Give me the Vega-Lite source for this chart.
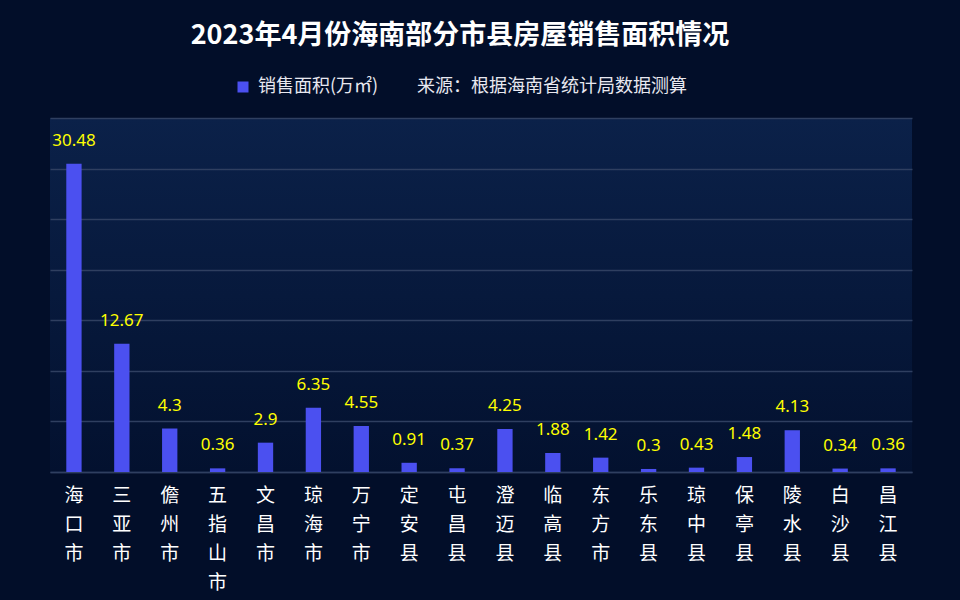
{
  "$schema": "https://vega.github.io/schema/vega-lite/v6.json",
  "width": 862,
  "height": 354,
  "autosize": {"type": "none"},
  "padding": {"left": 50, "top": 118, "right": 48, "bottom": 128},
  "background": "#020e29",
  "title": {
    "text": "2023年4月份海南部分市县房屋销售面积情况",
    "anchor": "middle",
    "dx": -21,
    "offset": 28,
    "fontSize": 27,
    "font": "Noto Sans CJK SC",
    "fontWeight": "bold",
    "color": "#ffffff"
  },
  "data": {
    "values": [
      {"city": "海口市", "area": 30.48},
      {"city": "三亚市", "area": 12.67},
      {"city": "儋州市", "area": 4.3},
      {"city": "五指山市", "area": 0.36},
      {"city": "文昌市", "area": 2.9},
      {"city": "琼海市", "area": 6.35},
      {"city": "万宁市", "area": 4.55},
      {"city": "定安县", "area": 0.91},
      {"city": "屯昌县", "area": 0.37},
      {"city": "澄迈县", "area": 4.25},
      {"city": "临高县", "area": 1.88},
      {"city": "东方市", "area": 1.42},
      {"city": "乐东县", "area": 0.3},
      {"city": "琼中县", "area": 0.43},
      {"city": "保亭县", "area": 1.48},
      {"city": "陵水县", "area": 4.13},
      {"city": "白沙县", "area": 0.34},
      {"city": "昌江县", "area": 0.36}
    ]
  },
  "encoding": {
    "x": {
      "field": "city",
      "type": "nominal",
      "sort": null,
      "scale": {"paddingInner": 0.68, "paddingOuter": 0.34},
      "axis": {
        "title": null,
        "labelAngle": 0,
        "ticks": false,
        "domainColor": "#2f3f60",
        "domainWidth": 1.5,
        "labelColor": "#ffffff",
        "labelFont": "Noto Sans CJK SC",
        "labelFontSize": 19,
        "labelLineHeight": 29,
        "labelBaseline": "top",
        "labelPadding": 14,
        "labelExpr": "split(datum.label, '')"
      }
    },
    "y": {
      "field": "area",
      "type": "quantitative",
      "scale": {"domain": [0, 35], "nice": false},
      "axis": {
        "title": null,
        "labels": false,
        "ticks": false,
        "domain": false,
        "grid": true,
        "gridColor": "#2f3f60",
        "gridWidth": 1.5,
        "values": [0, 5, 10, 15, 20, 25, 30, 35]
      }
    }
  },
  "layer": [
    {
      "mark": {"type": "bar"},
      "encoding": {
        "color": {
          "datum": "销售面积(万㎡)",
          "type": "nominal",
          "scale": {
            "domain": ["销售面积(万㎡)", "来源：根据海南省统计局数据测算"],
            "range": ["#4b50f0", "transparent"]
          },
          "legend": {
            "title": null,
            "orient": "none",
            "direction": "horizontal",
            "legendX": 184,
            "legendY": -40,
            "padding": 0,
            "symbolType": "square",
            "symbolSize": 121,
            "symbolStrokeWidth": 0,
            "labelFont": "Noto Sans CJK SC",
            "labelFontSize": 18,
            "labelColor": "#e8e8f0",
            "labelOffset": 6,
            "columnPadding": 14,
            "labelLimit": 400
          }
        }
      }
    },
    {
      "mark": {
        "type": "text",
        "baseline": "alphabetic",
        "dy": -18,
        "color": "#ffff00",
        "fontSize": 17,
        "font": "Noto Sans"
      },
      "encoding": {
        "text": {"field": "area", "type": "nominal"}
      }
    }
  ],
  "config": {
    "view": {
      "stroke": null,
      "fill": {
        "gradient": "linear",
        "x1": 0, "y1": 0, "x2": 0, "y2": 1,
        "stops": [
          {"offset": 0, "color": "#0b2149"},
          {"offset": 1, "color": "#03112f"}
        ]
      }
    }
  }
}
